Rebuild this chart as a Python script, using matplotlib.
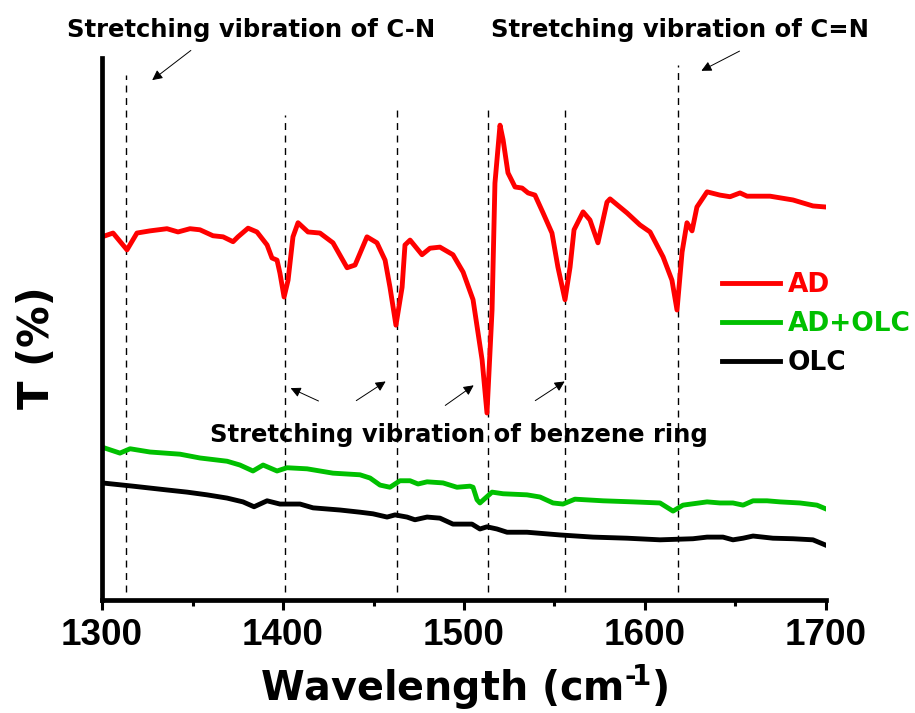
import numpy as np
import matplotlib.pyplot as plt

plt.rcParams['font.family'] = ['Liberation Sans', 'DejaVu Sans']
plt.rcParams['mathtext.fontset'] = 'custom'
plt.rcParams['mathtext.rm'] = 'DejaVu Sans:bold'
plt.rcParams['mathtext.it'] = 'DejaVu Sans:bold'
plt.rcParams['mathtext.bf'] = 'DejaVu Sans:bold'

# AD (red)
ad_w = [1300, 1306.1, 1313.8, 1319.3, 1326.5, 1335.9, 1342.0, 1348.6, 1354.1, 1361.3,
        1366.9, 1372.4, 1375.1, 1380.7, 1385.6, 1391.2, 1393.9, 1396.7, 1398.3, 1400.6,
        1402.8, 1405.5, 1408.3, 1413.8, 1420.4, 1427.6, 1435.4, 1439.8, 1446.4, 1451.9,
        1456.4, 1459.1, 1462.4, 1465.8, 1467.4, 1470.2, 1476.8, 1481.2, 1486.7, 1493.9,
        1499.5, 1505.0, 1510.0, 1512.7, 1515.5, 1517.1, 1519.9, 1521.6, 1524.3, 1528.2,
        1532.1, 1535.4, 1539.2, 1543.7, 1548.6, 1551.9, 1555.8, 1558.6, 1560.8, 1565.8,
        1569.6, 1574.0, 1579.0, 1580.7, 1590.1, 1597.2, 1602.8, 1610.0, 1614.9, 1617.7,
        1620.5, 1623.2, 1626.0, 1628.7, 1634.3, 1641.4, 1647.0, 1652.5, 1656.4, 1669.1,
        1681.8, 1692.8, 1700]
ad_t = [67.0, 67.7, 64.6, 67.7, 68.1, 68.5, 67.9, 68.5, 68.3, 67.2,
        67.0, 66.1, 67.0, 68.6, 67.9, 65.5, 63.1, 62.7, 60.3, 55.9,
        59.0, 67.0, 69.6, 67.9, 67.7, 65.9, 61.3, 61.8, 67.0, 65.9,
        62.7, 57.7, 50.7, 57.7, 65.5, 66.4, 63.7, 64.9, 65.1, 63.7,
        60.5, 55.4, 44.3, 34.5, 53.5, 76.9, 87.6, 84.9, 78.8, 76.2,
        76.0, 75.1, 74.7, 71.4, 67.7, 61.4, 55.4, 61.4, 68.3, 71.6,
        70.1, 65.9, 73.4, 74.0, 71.4, 69.2, 67.9, 63.3, 59.0, 53.5,
        64.2, 69.6, 68.1, 72.5, 75.3, 74.7, 74.4, 75.1, 74.5, 74.5,
        73.8, 72.7, 72.5]

# AD+OLC (green)
mix_w = [1300, 1309.9, 1315.5, 1326.5, 1343.1, 1354.1, 1369.1, 1376.2, 1383.4, 1389.0,
         1396.7, 1402.2, 1413.3, 1427.6, 1442.5, 1448.1, 1453.6, 1459.1, 1464.6, 1470.2,
         1474.6, 1479.6, 1488.4, 1496.1, 1503.3, 1505.0, 1507.2, 1508.8, 1515.5, 1521.6,
         1534.8, 1542.0, 1549.2, 1554.7, 1561.3, 1576.8, 1593.4, 1608.3, 1615.5, 1621.0,
         1634.3, 1641.4, 1648.6, 1654.2, 1659.7, 1667.4, 1674.6, 1685.6, 1695.0, 1700]
mix_t = [28.2, 27.1, 27.9, 27.3, 26.9, 26.2, 25.6, 24.9, 23.8, 24.9,
         23.8, 24.4, 24.2, 23.4, 23.1, 22.5, 21.2, 20.8, 22.0, 22.0,
         21.4, 21.8, 21.6, 20.8, 21.0, 20.8, 18.5, 17.9, 19.9, 19.6,
         19.4, 19.0, 17.9, 17.7, 18.6, 18.3, 18.1, 17.9, 16.4, 17.5,
         18.1, 17.9, 17.9, 17.5, 18.3, 18.3, 18.1, 17.9, 17.5, 16.8]

# OLC (black)
olc_w = [1300, 1317.1, 1335.9, 1347.0, 1358.0, 1369.1, 1377.9, 1384.0, 1391.2, 1398.3,
         1409.4, 1416.6, 1431.5, 1442.5, 1449.7, 1457.5, 1461.9, 1468.5, 1472.9, 1479.6,
         1486.7, 1493.9, 1504.4, 1508.8, 1512.7, 1518.2, 1523.8, 1534.8, 1553.0, 1571.3,
         1590.1, 1608.3, 1626.5, 1634.3, 1643.1, 1648.6, 1654.2, 1659.7, 1670.7, 1681.8,
         1692.8, 1700]
olc_t = [21.6, 21.0, 20.3, 19.9, 19.4, 18.8, 18.1, 17.2, 18.3, 17.7,
         17.7, 17.0, 16.6, 16.2, 15.9, 15.3, 15.7, 15.3, 14.8, 15.3,
         15.1, 14.0, 14.0, 13.1, 13.5, 13.1, 12.5, 12.5, 12.0, 11.6,
         11.4, 11.1, 11.3, 11.6, 11.6, 11.1, 11.4, 11.8, 11.4, 11.3,
         11.1, 10.1]

# marked bands
band_w = [1313, 1401, 1463, 1513, 1556, 1618]
band_top = [96.9, 89.5, 90.4, 91.3, 90.8, 98.7]

fig = plt.figure(figsize=(9.15, 7.13), dpi=100)
ax = fig.add_axes([0.1115, 0.1585, 0.7912, 0.7602])

for w, top in zip(band_w, band_top):
    ax.plot([w, w], [1.5, top], color='k', lw=1.0, ls=(0, (5, 4)))

ax.plot(ad_w, ad_t, color='#ff0000', lw=3.5, label='AD', solid_joinstyle='round')
ax.plot(mix_w, mix_t, color='#00c000', lw=3.5, label='AD+OLC', solid_joinstyle='round')
ax.plot(olc_w, olc_t, color='k', lw=3.5, label='OLC', solid_joinstyle='round')

ax.set_xlim(1300, 1700)
ax.set_ylim(0, 100)
ax.set_xticks([1300, 1400, 1500, 1600, 1700])
ax.set_xticks([1350, 1450, 1550, 1650], minor=True)
ax.set_yticks([])
for s in ['top', 'right']:
    ax.spines[s].set_visible(False)
for s in ['left', 'bottom']:
    ax.spines[s].set_linewidth(3.4)
ax.tick_params(axis='x', which='major', length=7, width=2.2, pad=6, labelsize=26.5)
ax.tick_params(axis='x', which='minor', length=4, width=2.2)
for lab in ax.get_xticklabels():
    lab.set_fontweight('bold')

ax.set_xlabel('Wavelength (cm$^{\u2010\\!1}$)', family='DejaVu Sans', fontsize=28.5,
              fontweight='bold', labelpad=7)
ax.set_ylabel('T (%)', family='DejaVu Sans', fontsize=30, fontweight='bold')
ax.yaxis.set_label_coords(-0.061, 0.465)

ann_font = dict(family='DejaVu Sans', size=17.5, weight='bold')
arrow = dict(arrowstyle='-|>', color='k', lw=0.7, mutation_scale=15)
ax.text(1382.5, 103.9, 'Stretching vibration of C-N', fontdict=ann_font,
        ha='center', va='baseline', clip_on=False)
ax.text(1619.3, 103.9, 'Stretching vibration of C=N', fontdict=ann_font,
        ha='center', va='baseline', clip_on=False)
ax.text(1497, 29.2, 'Stretching vibration of benzene ring', fontdict=ann_font,
        ha='center', va='baseline')
ax.annotate('', xy=(1326.5, 95.6), xytext=(1350.3, 101.7), arrowprops=arrow, annotation_clip=False)
ax.annotate('', xy=(1629.8, 97.4), xytext=(1653.6, 101.5), arrowprops=arrow, annotation_clip=False)
ax.annotate('', xy=(1402.8, 39.3), xytext=(1421.0, 36.5), arrowprops=arrow)
ax.annotate('', xy=(1458.0, 40.6), xytext=(1439.2, 36.5), arrowprops=arrow)
ax.annotate('', xy=(1506.6, 39.9), xytext=(1488.4, 35.6), arrowprops=arrow)
ax.annotate('', xy=(1556.9, 40.6), xytext=(1538.1, 36.5), arrowprops=arrow)

leg = ax.legend(loc='upper left', bbox_to_anchor=(0.763, 0.652), bbox_transform=fig.transFigure,
                frameon=False, labelcolor='linecolor', handlelength=2.2, handletextpad=0.3,
                labelspacing=0.5, prop={'family': 'DejaVu Sans', 'size': 19, 'weight': 'bold'})

fig.savefig('out.png', dpi=100)
